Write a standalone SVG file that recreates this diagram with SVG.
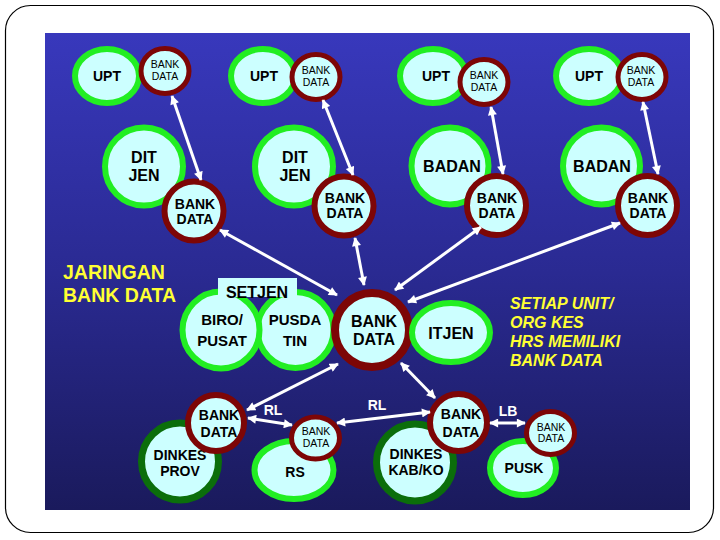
<svg xmlns="http://www.w3.org/2000/svg" width="720" height="540" viewBox="0 0 720 540">
<defs>
<linearGradient id="bg" x1="0" y1="0" x2="0" y2="1">
<stop offset="0" stop-color="#3838bc"/>
<stop offset="0.5" stop-color="#2a2a92"/>
<stop offset="1" stop-color="#1a1a5c"/>
</linearGradient>
<marker id="ah" viewBox="0 0 10 10" refX="9" refY="5" markerWidth="10" markerHeight="9" markerUnits="userSpaceOnUse" orient="auto-start-reverse">
<path d="M0,0 L10,5 L0,10 z" fill="#ffffff"/>
</marker>
<style>
.t{font-family:"Liberation Sans",Arial,sans-serif;font-weight:bold;fill:#000;text-anchor:middle}
.s{font-family:"Liberation Sans",Arial,sans-serif;font-size:10.5px;fill:#000;text-anchor:middle}
.g{fill:#ccffff;stroke:#22ee22;stroke-width:6}
.dg{fill:#ccffff;stroke:#0b6e0b;stroke-width:7}
.r{fill:#ccffff;stroke:#7d0606;stroke-width:6}
.rs{fill:#ccffff;stroke:#7d0606;stroke-width:5}
.y{font-family:"Liberation Sans",Arial,sans-serif;font-weight:bold;fill:#ffff33}
.w{font-family:"Liberation Sans",Arial,sans-serif;font-weight:bold;font-size:14px;fill:#ffffff;text-anchor:middle}
.c line{stroke:#ffffff;stroke-width:3;marker-start:url(#ah);marker-end:url(#ah)}
</style>
</defs>
<rect x="5.5" y="5.5" width="708" height="527" rx="25" fill="#ffffff" stroke="#000000" stroke-width="1.2"/>
<rect x="45" y="33" width="645" height="477" fill="url(#bg)"/>

<g id="upt1"><ellipse class="g" cx="107" cy="76" rx="32" ry="27"/><text class="t" x="107" y="81" font-size="14">UPT</text></g>
<g id="bd-upt1"><ellipse class="rs" cx="165" cy="71" rx="24" ry="22.5"/><text class="s" x="165" y="68">BANK</text><text class="s" x="165" y="80">DATA</text></g>
<g id="upt2"><ellipse class="g" cx="263" cy="76" rx="32" ry="27"/><text class="t" x="264" y="81" font-size="14">UPT</text></g>
<g id="bd-upt2"><ellipse class="rs" cx="316" cy="77" rx="24" ry="22.5"/><text class="s" x="316" y="74">BANK</text><text class="s" x="316" y="86">DATA</text></g>
<g id="upt3"><ellipse class="g" cx="433" cy="76" rx="33" ry="27"/><text class="t" x="436" y="81" font-size="14">UPT</text></g>
<g id="bd-upt3"><ellipse class="rs" cx="484" cy="82" rx="24" ry="22.5"/><text class="s" x="484" y="79">BANK</text><text class="s" x="484" y="91">DATA</text></g>
<g id="upt4"><ellipse class="g" cx="589" cy="76" rx="33" ry="27"/><text class="t" x="589" y="81" font-size="14">UPT</text></g>
<g id="bd-upt4"><ellipse class="rs" cx="642" cy="77" rx="24" ry="22.5"/><text class="s" x="641" y="74">BANK</text><text class="s" x="641" y="86">DATA</text></g>

<g id="ditjen1"><circle class="g" cx="144" cy="166.5" r="39"/><text class="t" x="144" y="163" font-size="16">DIT</text><text class="t" x="144" y="181" font-size="16">JEN</text></g>
<g id="bd-ditjen1"><circle class="r" cx="194" cy="211" r="29.5"/><text class="t" x="195" y="209" font-size="14">BANK</text><text class="t" x="195" y="224" font-size="14">DATA</text></g>
<g id="ditjen2"><circle class="g" cx="294" cy="166.5" r="39"/><text class="t" x="295" y="163" font-size="16">DIT</text><text class="t" x="295" y="181" font-size="16">JEN</text></g>
<g id="bd-ditjen2"><circle class="r" cx="344" cy="206" r="29.5"/><text class="t" x="345" y="203" font-size="14">BANK</text><text class="t" x="345" y="218" font-size="14">DATA</text></g>
<g id="badan3"><circle class="g" cx="450" cy="166" r="38.5"/><text class="t" x="452" y="172" font-size="16">BADAN</text></g>
<g id="bd-badan3"><circle class="r" cx="496.5" cy="205.5" r="29.5"/><text class="t" x="497" y="203" font-size="14">BANK</text><text class="t" x="497" y="218" font-size="14">DATA</text></g>
<g id="badan4"><circle class="g" cx="601.5" cy="166" r="38.5"/><text class="t" x="602" y="172" font-size="16">BADAN</text></g>
<g id="bd-badan4"><circle class="r" cx="647.5" cy="205.5" r="29.5"/><text class="t" x="648" y="203" font-size="14">BANK</text><text class="t" x="648" y="218" font-size="14">DATA</text></g>

<g id="title"><text class="y" x="63" y="279" font-size="19.5">JARINGAN</text><text class="y" x="63" y="302" font-size="19.5">BANK DATA</text></g>

<g id="pusdatin"><circle class="g" cx="295.5" cy="330" r="38"/><text class="t" x="295" y="325" font-size="15">PUSDA</text><text class="t" x="295" y="346" font-size="15">TIN</text></g>
<g id="biro"><circle class="g" cx="221" cy="330" r="38.5"/><text class="t" x="222" y="325" font-size="15">BIRO/</text><text class="t" x="222" y="346" font-size="15">PUSAT</text></g>
<g id="setjen"><rect x="218" y="278" width="79" height="19" fill="#ccffff"/><text class="t" x="257" y="298" font-size="16">SETJEN</text></g>
<g id="bd-pusat"><circle cx="372" cy="330" r="37" fill="#ccffff" stroke="#7d0606" stroke-width="8"/><text class="t" x="374" y="327" font-size="16">BANK</text><text class="t" x="374" y="345" font-size="16">DATA</text></g>
<g id="itjen"><ellipse class="g" cx="451" cy="332.5" rx="39" ry="29.5"/><text class="t" x="451" y="339" font-size="16">ITJEN</text></g>

<g id="note" font-style="italic"><text class="y" x="510" y="309" font-size="16">SETIAP UNIT/</text><text class="y" x="510" y="328" font-size="16">ORG KES</text><text class="y" x="510" y="347" font-size="16">HRS MEMILIKI</text><text class="y" x="510" y="366" font-size="16">BANK DATA</text></g>

<g id="dinkes-prov"><circle class="dg" cx="180" cy="461.5" r="38.5"/><text class="t" x="180" y="460" font-size="14">DINKES</text><text class="t" x="180" y="476" font-size="14">PROV</text></g>
<g id="bd-prov"><circle class="r" cx="216" cy="423" r="28"/><text class="t" x="219" y="420" font-size="14">BANK</text><text class="t" x="219" y="437" font-size="14">DATA</text></g>
<g id="rs"><ellipse class="g" cx="294" cy="470" rx="39.5" ry="29"/><text class="t" x="295" y="477" font-size="14">RS</text></g>
<g id="bd-rs"><ellipse class="rs" cx="315.5" cy="438" rx="24" ry="21"/><text class="s" x="316" y="435">BANK</text><text class="s" x="316" y="447">DATA</text></g>
<g id="dinkes-kab"><circle class="dg" cx="415" cy="462.5" r="38.5"/><text class="t" x="416" y="459" font-size="14">DINKES</text><text class="t" x="416" y="475" font-size="14">KAB/KO</text></g>
<g id="bd-kab"><circle class="r" cx="458.5" cy="422.5" r="28.5"/><text class="t" x="461" y="419" font-size="14">BANK</text><text class="t" x="461" y="437" font-size="14">DATA</text></g>
<g id="pusk"><ellipse class="g" cx="523" cy="468" rx="33" ry="27"/><text class="t" x="524" y="473" font-size="14">PUSK</text></g>
<g id="bd-pusk"><ellipse class="rs" cx="550.5" cy="433" rx="24" ry="21.5"/><text class="s" x="551" y="431">BANK</text><text class="s" x="551" y="442">DATA</text></g>

<g id="connectors" class="c">
<line x1="172" y1="96" x2="201" y2="180"/>
<line x1="323" y1="100" x2="353" y2="175"/>
<line x1="491" y1="107" x2="503" y2="174"/>
<line x1="643" y1="102" x2="658" y2="174"/>
<line x1="220" y1="230" x2="337" y2="295"/>
<line x1="355" y1="238" x2="364" y2="285"/>
<line x1="481" y1="227" x2="395" y2="290"/>
<line x1="620" y1="223" x2="408" y2="302"/>
<line x1="247" y1="410" x2="338" y2="364"/>
<line x1="435" y1="398" x2="401" y2="363"/>
<line x1="248" y1="418" x2="292" y2="425"/>
<line x1="337" y1="423" x2="430" y2="412"/>
<line x1="490" y1="423" x2="525" y2="423"/>
</g>
<g id="labels"><text class="w" x="273" y="415">RL</text><text class="w" x="377" y="410">RL</text><text class="w" x="508" y="416">LB</text></g>
</svg>
